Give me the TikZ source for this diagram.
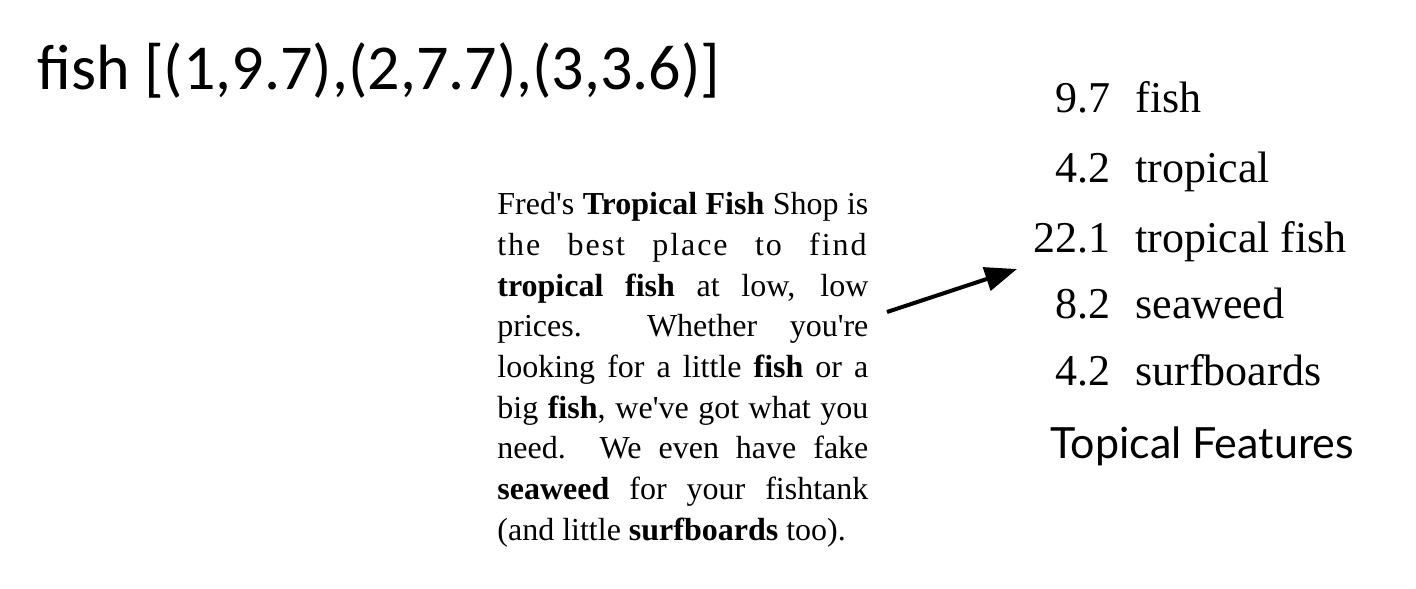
\documentclass[tikz,border=0pt]{standalone}
\usepackage{fontspec}
\setmainfont{Liberation Serif}
\newfontfamily\queryfont{Carlito}
\newfontfamily\labelfont{Lato}
\usetikzlibrary{arrows.meta}
\tikzstyle{query} = [anchor=base west, inner sep=0pt, font=\queryfont\fontsize{32}{38}\selectfont]
\tikzstyle{shop} = [anchor=north west, inner sep=0pt, text width=185.5pt, align=justify, font=\fontsize{16}{20.35}\selectfont]
\tikzstyle{score} = [anchor=base east, inner sep=0pt, font=\fontsize{22}{26}\selectfont]
\tikzstyle{term} = [anchor=base west, inner sep=0pt, font=\fontsize{22}{26}\selectfont]
\tikzstyle{featlabel} = [anchor=base west, inner sep=0pt, font=\labelfont\fontsize{21.5}{26}\selectfont]
\tikzstyle{arrow} = [line width=2pt, -{Triangle[length=16pt,width=12pt]}]

\begin{document}
\begin{tikzpicture}[x=0.5pt, y=0.5pt, yscale=-1]
\useasboundingbox (0,0) rectangle (1416,588);

\node at (37,90) (q) [query] {fish [(1,9.7),(2,7.7),(3,3.6)]};

% the page text
\node at (497,192) (page) [shop] {\tolerance=9999 \hbadness=10000 \hyphenpenalty=10000
Fred\textquotesingle s \textbf{Tropical Fish} Shop is\linebreak
{\addfontfeature{LetterSpace=6}the best place to find}\linebreak
\textbf{tropical fish} at low, low\linebreak
prices.\ \ Whether you\textquotesingle re\linebreak
looking for a little \textbf{fish} or a\linebreak
big \textbf{fish}, we\textquotesingle ve got what you\linebreak
need.\ \ We even have fake\linebreak
\textbf{seaweed} for your fishtank\linebreak
(and little \textbf{surfboards} too).};

% features with scores
\node at (1111,113) (s1) [score] {9.7};
\node at (1135,113) (t1) [term] {fish};
\node at (1111,183) (s2) [score] {4.2};
\node at (1135,183) (t2) [term] {tropical};
\node at (1111,252) (s3) [score] {22.1};
\node at (1135,252) (t3) [term] {tropical fish};
\node at (1111,318) (s4) [score] {8.2};
\node at (1135,318) (t4) [term] {seaweed};
\node at (1111,385) (s5) [score] {4.2};
\node at (1135,385) (t5) [term] {surfboards};
\node at (1050,458) (feat) [featlabel] {Topical Features};

\coordinate (tail) at (887,312);
\coordinate (head) at (1017,269);
\draw[arrow] (tail) -- (head);

\end{tikzpicture}
\end{document}
